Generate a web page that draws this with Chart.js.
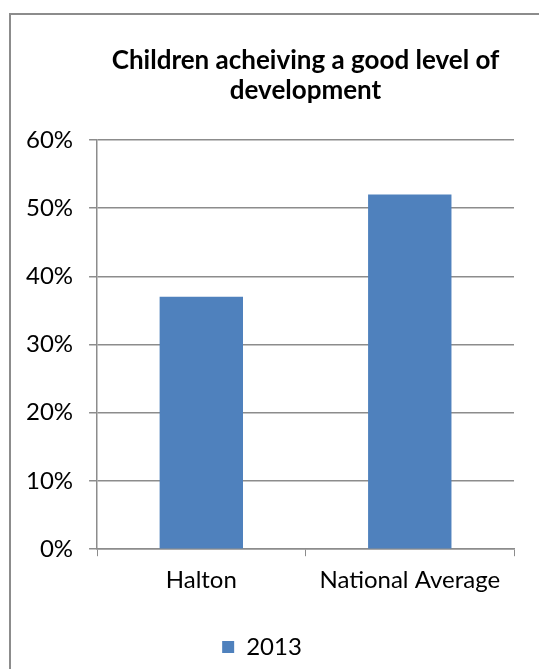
<!DOCTYPE html>
<html>
<head>
<meta charset="utf-8">
<script src="https://cdn.jsdelivr.net/npm/chart.js@4"></script>
<style>
  body{margin:0;background:#fff;}
  #frame{position:absolute;left:9px;top:13px;width:640px;height:720px;border-left:2px solid #8c8c8c;border-top:2px solid #8c8c8c;}
  #myChart{position:absolute;left:0;top:0;}
</style>
</head>
<body>
<div id="frame"></div>
<canvas id="myChart" width="539" height="669"></canvas>
<script>
'use strict';
let categories=['Halton','National Average'];
let values2013=[37,52];
let seriesName='2013';
let yTicks=[0,10,20,30,40,50,60];
let titleLines=['Children acheiving a good level of','development'];

let fontName='Lato';
let gridColor='#8c8c8c';

let ctx=document.getElementById('myChart');
let myChart=new Chart(ctx,{
  type:'bar',
  data:{
    labels:categories,
    datasets:[{
      label:seriesName,
      data:values2013,
      backgroundColor:'#4f81bd',
      borderWidth:0,
      barPercentage:0.4,
      categoryPercentage:1
    }]
  },
  options:{
    responsive:false,
    animation:false,
    layout:{padding:{left:10,right:25,top:46,bottom:0}},
    plugins:{
      title:{
        display:true,
        text:titleLines,
        fullSize:false,
        color:'#000',
        font:{family:fontName,size:26,weight:'bold',lineHeight:1.15},
        padding:{top:0,bottom:34}
      },
      legend:{
        position:'bottom',
        labels:{
          color:'#000',
          boxWidth:12,
          boxHeight:12,
          font:{family:fontName,size:24},
          padding:17
        }
      },
      tooltip:{enabled:false}
    },
    scales:{
      x:{
        grid:{drawOnChartArea:false,drawTicks:true,tickLength:7,color:gridColor},
        border:{color:gridColor,width:1.5},
        ticks:{color:'#000',font:{family:fontName,size:24},padding:10},
        afterFit:function(axis){axis.height+=13;}
      },
      y:{
        min:yTicks[0],
        max:yTicks[yTicks.length-1],
        afterBuildTicks:function(axis){
          axis.ticks=yTicks.map(function(v){return {value:v};});
        },
        grid:{color:gridColor,lineWidth:1.5,tickLength:8},
        border:{color:gridColor,width:1.5},
        ticks:{
          color:'#000',
          font:{family:fontName,size:24},
          padding:16,
          callback:function(v){return v+'%';}
        }
      }
    }
  }
});
</script>
</body>
</html>
